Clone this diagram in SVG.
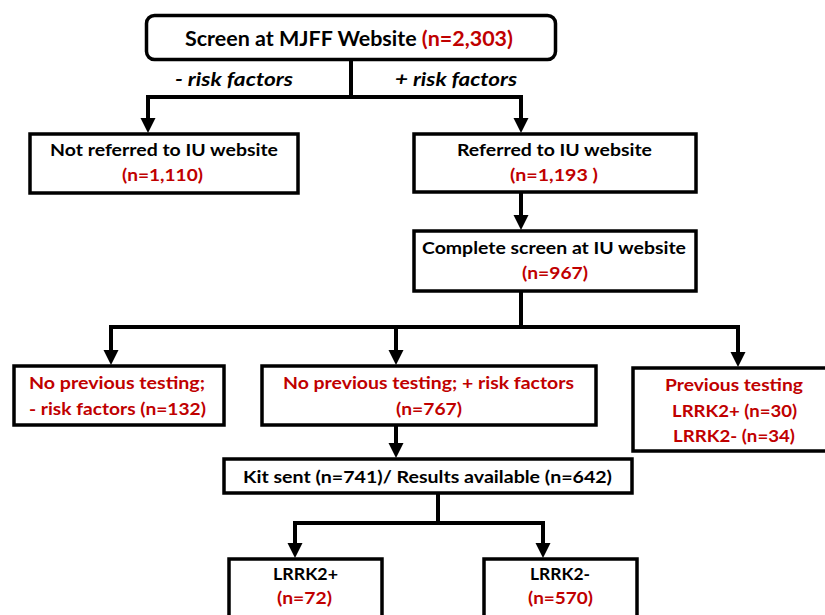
<svg xmlns="http://www.w3.org/2000/svg" width="825" height="615" viewBox="0 0 825 615">
<defs>
<style>
.box{fill:#fff;stroke:#000;stroke-width:3.5}
.t{font-family:Lato,"Liberation Sans",sans-serif;font-weight:bold;font-size:17px;fill:#000;text-anchor:middle}
.r{fill:#C00000}
.lbl{font-family:Lato,"Liberation Sans",sans-serif;font-weight:bold;font-style:italic;font-size:19px;fill:#000;text-anchor:middle}
.c{fill:none;stroke:#000;stroke-width:4}
</style>
<marker id="ah" markerUnits="userSpaceOnUse" markerWidth="16" markerHeight="16" refX="1" refY="7.5" orient="auto" viewBox="0 0 16 15">
<path d="M0,0 L15,7.5 L0,15 z" fill="#000"/>
</marker>
</defs>
<g id="connectors">
<path class="c" d="M351 60 V97"/>
<path class="c" d="M146 97 H523"/>
<path class="c" d="M148 95 V119" marker-end="url(#ah)"/>
<path class="c" d="M521 95 V119" marker-end="url(#ah)"/>
<path class="c" d="M521 192 V216" marker-end="url(#ah)"/>
<path class="c" d="M521 291 V327"/>
<path class="c" d="M109 327 H740"/>
<path class="c" d="M111 325 V351" marker-end="url(#ah)"/>
<path class="c" d="M396 325 V351" marker-end="url(#ah)"/>
<path class="c" d="M738 325 V353" marker-end="url(#ah)"/>
<path class="c" d="M396 425 V444" marker-end="url(#ah)"/>
<path class="c" d="M438 493 V523"/>
<path class="c" d="M293 523 H545"/>
<path class="c" d="M295 521 V544" marker-end="url(#ah)"/>
<path class="c" d="M543 521 V544" marker-end="url(#ah)"/>
</g>
<g id="labels">
<text class="lbl" x="234" y="86" textLength="118" lengthAdjust="spacingAndGlyphs">- risk factors</text>
<text class="lbl" x="456" y="86" textLength="122" lengthAdjust="spacingAndGlyphs">+ risk factors</text>
</g>
<g id="n-screen">
<rect class="box" x="146.5" y="15.5" width="409" height="44" rx="8"/>
<text class="t" style="font-size:21px" x="349" y="46" textLength="328" lengthAdjust="spacingAndGlyphs">Screen at MJFF Website <tspan class="r">(n=2,303)</tspan></text>
</g>
<g id="n-notref">
<rect class="box" x="30" y="134" width="268" height="59"/>
<text class="t" x="164" y="156" textLength="228" lengthAdjust="spacingAndGlyphs">Not referred to IU website</text>
<text class="t r" x="162.5" y="181" textLength="81" lengthAdjust="spacingAndGlyphs">(n=1,110)</text>
</g>
<g id="n-ref">
<rect class="box" x="414" y="134" width="282" height="58"/>
<text class="t" x="554.5" y="156" textLength="195" lengthAdjust="spacingAndGlyphs">Referred to IU website</text>
<text class="t r" x="554" y="181" textLength="88" lengthAdjust="spacingAndGlyphs">(n=1,193 )</text>
</g>
<g id="n-complete">
<rect class="box" x="414" y="231" width="282" height="60"/>
<text class="t" x="554" y="254" textLength="264" lengthAdjust="spacingAndGlyphs">Complete screen at IU website</text>
<text class="t r" x="555" y="279" textLength="66" lengthAdjust="spacingAndGlyphs">(n=967)</text>
</g>
<g id="n-noprev-neg">
<rect class="box" x="14" y="366" width="210" height="59"/>
<text class="t r" x="117" y="389" textLength="176" lengthAdjust="spacingAndGlyphs">No previous testing;</text>
<text class="t r" x="117.5" y="415" textLength="177" lengthAdjust="spacingAndGlyphs">- risk factors (n=132)</text>
</g>
<g id="n-noprev-pos">
<rect class="box" x="262" y="366" width="334" height="59"/>
<text class="t r" x="428.5" y="389" textLength="291" lengthAdjust="spacingAndGlyphs">No previous testing; + risk factors</text>
<text class="t r" x="429" y="415" textLength="66" lengthAdjust="spacingAndGlyphs">(n=767)</text>
</g>
<g id="n-prev">
<rect class="box" x="633" y="368" width="200" height="83"/>
<text class="t r" x="734" y="391" textLength="138" lengthAdjust="spacingAndGlyphs">Previous testing</text>
<text class="t r" x="734.5" y="417" textLength="125" lengthAdjust="spacingAndGlyphs">LRRK2+ (n=30)</text>
<text class="t r" x="734" y="442" textLength="122" lengthAdjust="spacingAndGlyphs">LRRK2- (n=34)</text>
</g>
<g id="n-kit">
<rect class="box" x="224" y="459" width="408" height="34"/>
<text class="t" x="427.5" y="483" textLength="369" lengthAdjust="spacingAndGlyphs">Kit sent (n=741)/ Results available (n=642)</text>
</g>
<g id="n-pos">
<rect class="box" x="229" y="559" width="153" height="70"/>
<text class="t" x="305.5" y="580" textLength="65" lengthAdjust="spacingAndGlyphs">LRRK2+</text>
<text class="t r" x="304.5" y="604" textLength="55" lengthAdjust="spacingAndGlyphs">(n=72)</text>
</g>
<g id="n-neg">
<rect class="box" x="484" y="559" width="153" height="70"/>
<text class="t" x="560" y="580" textLength="60" lengthAdjust="spacingAndGlyphs">LRRK2-</text>
<text class="t r" x="560.5" y="604" textLength="65" lengthAdjust="spacingAndGlyphs">(n=570)</text>
</g>
</svg>
